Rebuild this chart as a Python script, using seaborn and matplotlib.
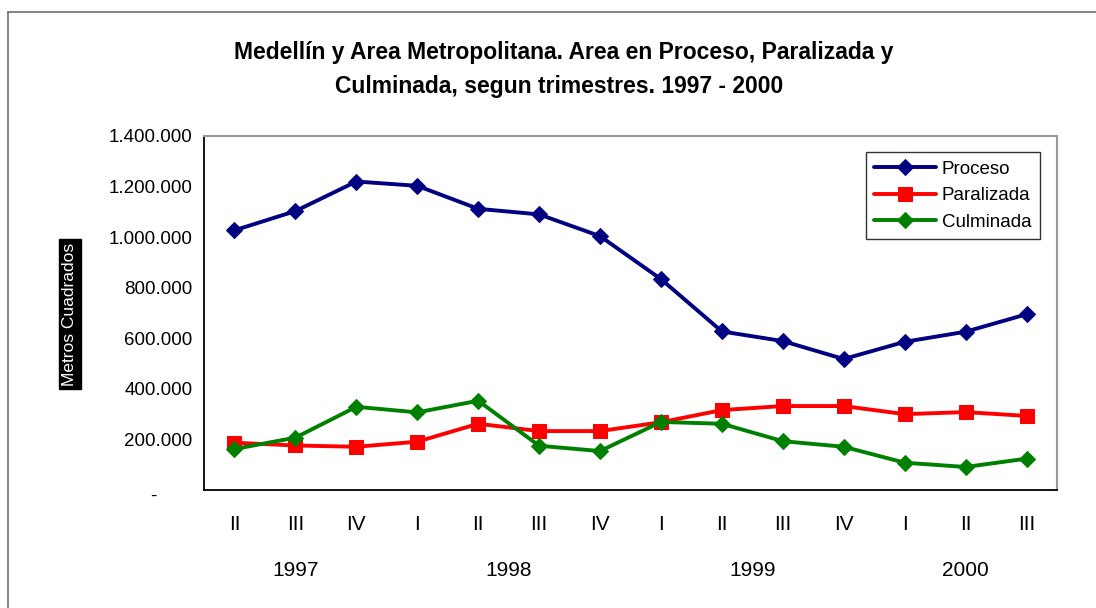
import matplotlib
matplotlib.use("Agg")
import matplotlib.pyplot as plt
import matplotlib.transforms as mtransforms
from matplotlib.lines import Line2D
from matplotlib.ticker import FuncFormatter, FixedLocator
import numpy as np
import pandas as pd
import seaborn as sns

# Data (metros cuadrados por trimestre)
trimestres = ["II", "III", "IV", "I", "II", "III", "IV", "I", "II", "III", "IV", "I", "II", "III"]
anios = ["1997", "1998", "1999", "2000"]
anio_centro = [1, 4.5, 8.5, 12]

proceso = [1027000, 1103000, 1220000, 1203000, 1112000, 1090000, 1004000,
           834000, 627000, 589000, 518000, 586000, 626000, 695000]
paralizada = [187000, 176000, 171000, 191000, 262000, 233000, 233000,
              268000, 316000, 332000, 332000, 300000, 308000, 293000]
culminada = [162000, 207000, 329000, 307000, 353000, 175000, 154000,
             269000, 262000, 193000, 171000, 108000, 91000, 124000]

series = {"Proceso": proceso, "Paralizada": paralizada, "Culminada": culminada}
colores = {"Proceso": "#000080", "Paralizada": "#FF0000", "Culminada": "#008000"}
marcadores = {"Proceso": ("D", 8), "Paralizada": ("s", 10.5), "Culminada": ("D", 8)}

df = pd.DataFrame({
    "idx": np.tile(np.arange(len(trimestres)), len(series)),
    "valor": np.concatenate([series[k] for k in series]),
    "serie": np.repeat(list(series.keys()), len(trimestres)),
})

sns.set_style("white")
plt.rcParams["font.family"] = ["Liberation Sans", "DejaVu Sans"]
plt.rcParams["text.color"] = "black"
plt.rcParams["xtick.color"] = "black"
plt.rcParams["ytick.color"] = "black"

fig = plt.figure(figsize=(10.96, 6.08), dpi=100)
ax = fig.add_axes([204 / 1096, 1 - 490 / 608, (1057 - 204) / 1096, (490 - 136) / 608])

for name in series:
    m, ms = marcadores[name]
    sns.lineplot(data=df[df["serie"] == name], x="idx", y="valor", ax=ax,
                 color=colores[name], marker=m, markersize=ms,
                 markeredgecolor=colores[name], linewidth=2.8, label=name)

ax.set_xlim(-0.5, len(trimestres) - 0.5)
ax.set_ylim(0, 1400000)
ax.set_xlabel("")
ax.set_ylabel("")

# category labels without marks, boundaries with marks
ax.set_xticks(range(len(trimestres)))
ax.set_xticklabels(trimestres, fontsize=15)
ax.xaxis.set_minor_locator(FixedLocator(np.arange(-0.5, len(trimestres), 1.0)))
ax.tick_params(axis="x", which="major", length=0, pad=18)
ax.tick_params(axis="x", which="minor", direction="inout", length=8.5, width=1, color="black")

ax.set_yticks(np.arange(0, 1400001, 200000))
ax.yaxis.set_major_formatter(FuncFormatter(
    lambda v, p: "-" if v == 0 else f"{int(v):,}".replace(",", ".")))
ax.tick_params(axis="y", direction="inout", length=8.5, width=1, color="black",
               labelsize=13.5, pad=4)
fig.canvas.draw()
lbl0 = ax.get_yticklabels()[0]
lbl0.set_transform(lbl0.get_transform() +
                   mtransforms.ScaledTranslation(-0.36, -0.04, fig.dpi_scale_trans))

for s in ["left", "bottom"]:
    ax.spines[s].set_color("black")
    ax.spines[s].set_linewidth(1.3)
for s in ["top", "right"]:
    ax.spines[s].set_color("#9a9a9a")
    ax.spines[s].set_linewidth(1.5)

for x, a in zip(anio_centro, anios):
    ax.text(x, -0.228, a, transform=ax.get_xaxis_transform(),
            ha="center", va="center", fontsize=15)

leg = ax.legend(loc="upper right", bbox_to_anchor=(1040 / 1096, 1 - 152 / 608),
                bbox_transform=fig.transFigure, fontsize=13.5, frameon=True,
                fancybox=False, edgecolor="black", handlelength=3.3,
                labelspacing=0.5, borderpad=0.45, handletextpad=0.3,
                borderaxespad=0)
leg.get_frame().set_linewidth(1.0)

fig.text(564 / 1096, 1 - 52 / 608,
         "Medellín y Area Metropolitana. Area en Proceso, Paralizada y",
         ha="center", va="center", fontsize=16.5, fontweight="bold")
fig.text(559 / 1096, 1 - 86 / 608,
         "Culminada, segun trimestres. 1997 - 2000",
         ha="center", va="center", fontsize=16.5, fontweight="bold")

fig.text(70 / 1096, 1 - 314 / 608, "Metros Cuadrados", rotation=90,
         ha="center", va="center", fontsize=12.5, color="white",
         bbox=dict(boxstyle="square,pad=0.2", facecolor="black", edgecolor="black"))

# outer chart frame (left and top edges visible)
fig.add_artist(Line2D([8 / 1096, 8 / 1096], [0, 1 - 12 / 608],
                      transform=fig.transFigure, color="#707070", linewidth=1.2))
fig.add_artist(Line2D([8 / 1096, 1], [1 - 12 / 608, 1 - 12 / 608],
                      transform=fig.transFigure, color="#707070", linewidth=1.2))

fig.savefig("out.png", dpi=100)
